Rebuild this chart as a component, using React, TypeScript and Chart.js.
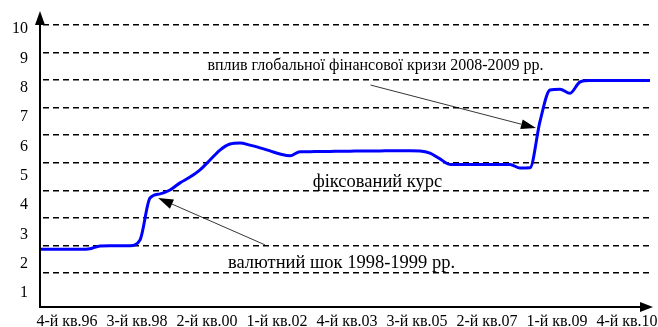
import React, { useEffect, useRef } from 'react';
import { Chart, registerables } from 'chart.js';
Chart.register(...registerables);

// Quarterly categories 1Q96 .. 2Q11
const quarters = [
  '1-й кв.96', '2-й кв.96', '3-й кв.96', '4-й кв.96',
  '1-й кв.97', '2-й кв.97', '3-й кв.97', '4-й кв.97',
  '1-й кв.98', '2-й кв.98', '3-й кв.98', '4-й кв.98',
  '1-й кв.99', '2-й кв.99', '3-й кв.99', '4-й кв.99',
  '1-й кв.00', '2-й кв.00', '3-й кв.00', '4-й кв.00',
  '1-й кв.01', '2-й кв.01', '3-й кв.01', '4-й кв.01',
  '1-й кв.02', '2-й кв.02', '3-й кв.02', '4-й кв.02',
  '1-й кв.03', '2-й кв.03', '3-й кв.03', '4-й кв.03',
  '1-й кв.04', '2-й кв.04', '3-й кв.04', '4-й кв.04',
  '1-й кв.05', '2-й кв.05', '3-й кв.05', '4-й кв.05',
  '1-й кв.06', '2-й кв.06', '3-й кв.06', '4-й кв.06',
  '1-й кв.07', '2-й кв.07', '3-й кв.07', '4-й кв.07',
  '1-й кв.08', '2-й кв.08', '3-й кв.08', '4-й кв.08',
  '1-й кв.09', '2-й кв.09', '3-й кв.09', '4-й кв.09',
  '1-й кв.10', '2-й кв.10', '3-й кв.10', '4-й кв.10',
  '1-й кв.11', '2-й кв.11',
];

const xTickLabels = [
  '4-й кв.96', '3-й кв.98', '2-й кв.00', '1-й кв.02', '4-й кв.03',
  '3-й кв.05', '2-й кв.07', '1-й кв.09', '4-й кв.10',
];

// Exchange rate (UAH per USD)
const rates = [
  1.86, 1.86, 1.86, 1.86, 1.86, 1.88,
  1.98, 1.99, 1.99, 1.99,
  2.2,
  3.72, 3.87, 4.01, 4.27, 4.48, 4.74, 5.10, 5.46, 5.68, 5.72, 5.64, 5.54, 5.43, 5.32, 5.25, 5.40,
  5.40, 5.41, 5.41, 5.42, 5.42, 5.43, 5.43, 5.43, 5.44, 5.44, 5.44, 5.43,
  5.35, 5.14,
  4.94, 4.94, 4.94, 4.94, 4.94, 4.94, 4.94,
  4.81, 4.82,
  6.5, 7.64, 7.67, 7.52, 7.93,
  7.98, 7.98, 7.98, 7.98, 7.98, 7.98, 7.98,
];

// Printed tick labels on the vertical axis
const yTickLabels = [1, 2, 3, 4, 5, 6, 7, 8, 9, 10];
// Levels of the dashed grid lines (in rate units)
const gridLevels = [1, 2, 3, 4, 5, 6, 7, 8, 9, 10];

// Annotations, anchored in data units (category index, rate)
const noteTexts = [
  'вплив глобальної фінансової кризи 2008-2009 рр.',
  'фіксований курс',
  'валютний шок 1998-1999 рр.',
];
const noteX = [33.55, 33.75, 30.15];
const noteY = [8.51, 4.30, 1.36];
const noteSize = [16, 18.5, 18.5];

const arrowFromX = [22.5, 33.05];
const arrowFromY = [2.02, 7.82];
const arrowToX = [11.82, 49.6];
const arrowToY = [3.72, 6.26];

const SERIF = '"Liberation Serif", "Times New Roman", serif';

function drawArrow(ctx: CanvasRenderingContext2D, x1: number, y1: number, x2: number, y2: number, len: number, half: number, lw: number) {
  const ang = Math.atan2(y2 - y1, x2 - x1);
  const bx = x2 - Math.cos(ang) * len;
  const by = y2 - Math.sin(ang) * len;
  ctx.save();
  ctx.strokeStyle = '#000';
  ctx.fillStyle = '#000';
  ctx.lineWidth = lw;
  ctx.beginPath();
  ctx.moveTo(x1, y1);
  ctx.lineTo(bx, by);
  ctx.stroke();
  ctx.beginPath();
  ctx.moveTo(x2, y2);
  ctx.lineTo(bx + Math.sin(ang) * half, by - Math.cos(ang) * half);
  ctx.lineTo(bx - Math.sin(ang) * half, by + Math.cos(ang) * half);
  ctx.closePath();
  ctx.fill();
  ctx.restore();
}

const decorPlugin = {
  id: 'decor',
  afterDraw(chart: any) {
    const ctx: CanvasRenderingContext2D = chart.ctx;
    const ca = chart.chartArea;
    const xs = chart.scales.x;
    const ys = chart.scales.y2;
    // axes with arrows
    drawArrow(ctx, ca.left, ca.bottom + 1, ca.left, ca.top - 1, 14, 5, 2);
    drawArrow(ctx, ca.left - 1, ca.bottom, ca.right + 3, ca.bottom, 13, 5, 2);
    // annotation arrows
    for (let i = 0; i < arrowFromX.length; i++) {
      drawArrow(
        ctx,
        xs.getPixelForValue(arrowFromX[i]), ys.getPixelForValue(arrowFromY[i]),
        xs.getPixelForValue(arrowToX[i]), ys.getPixelForValue(arrowToY[i]),
        15, 5, 0.8,
      );
    }
    // annotation texts
    ctx.save();
    ctx.fillStyle = '#000';
    ctx.textAlign = 'center';
    ctx.textBaseline = 'middle';
    for (let i = 0; i < noteTexts.length; i++) {
      ctx.font = noteSize[i] + 'px ' + SERIF;
      ctx.fillText(noteTexts[i], xs.getPixelForValue(noteX[i]), ys.getPixelForValue(noteY[i]));
    }
    ctx.restore();
  },
};

export default function App() {
  const ref = useRef<HTMLCanvasElement | null>(null);
  useEffect(() => {
    if (!ref.current) return;
    const chart = new Chart(ref.current, {
      type: 'line',
      data: {
        labels: quarters,
        datasets: [
          {
            data: rates,
            yAxisID: 'y2',
            borderColor: '#0000ff',
            borderWidth: 3,
            pointRadius: 0,
            cubicInterpolationMode: 'monotone',
            fill: false,
          },
        ],
      },
      options: {
        animation: false,
        responsive: false,
        devicePixelRatio: 1,
        layout: { padding: { top: 12, right: 8, left: 0, bottom: 0 } },
        plugins: { legend: { display: false }, tooltip: { enabled: false } },
        scales: {
          x: {
            type: 'category',
            offset: false,
            grid: { display: false },
            border: { display: false },
            ticks: {
              autoSkip: false,
              maxRotation: 0,
              minRotation: 0,
              padding: -3,
              labelOffset: -3,
              color: '#000',
              font: { family: SERIF, size: 16 },
              callback: function (this: any, _v: any, i: number) {
                const l = quarters[i];
                return xTickLabels.includes(l) ? l : '';
              },
            },
            afterFit: (s: any) => { s.height = 20; s.paddingLeft = 0; s.paddingRight = 0; },
          },
          y: {
            type: 'linear',
            position: 'left',
            min: 0.523,
            max: 10.58,
            grid: { display: false, drawTicks: false },
            border: { display: false },
            ticks: {
              padding: 12,
              color: '#000',
              font: { family: SERIF, size: 16 },
            },
            afterBuildTicks: (s: any) => { s.ticks = yTickLabels.map((v) => ({ value: v })); },
            afterFit: (s: any) => { s.width = 40; s.paddingTop = 0; s.paddingBottom = 0; },
          },
          y2: {
            type: 'linear',
            position: 'left',
            min: -0.234,
            max: 10.47,
            grid: { display: true, color: '#000', lineWidth: 1.4, drawTicks: false, drawOnChartArea: true },
            border: { display: false, dash: [6, 4], dashOffset: -3 },
            ticks: { display: false },
            afterBuildTicks: (s: any) => { s.ticks = gridLevels.map((v) => ({ value: v })); },
            afterFit: (s: any) => { s.width = 0; s.paddingTop = 0; s.paddingBottom = 0; },
          },
        },
      },
      plugins: [decorPlugin],
    });
    return () => chart.destroy();
  }, []);
  return (
    <div style={{ position: 'absolute', left: 0, top: 0, width: 658, height: 327, background: '#fff' }}>
      <canvas ref={ref} width={658} height={327} style={{ width: 658, height: 327 }} />
    </div>
  );
}
